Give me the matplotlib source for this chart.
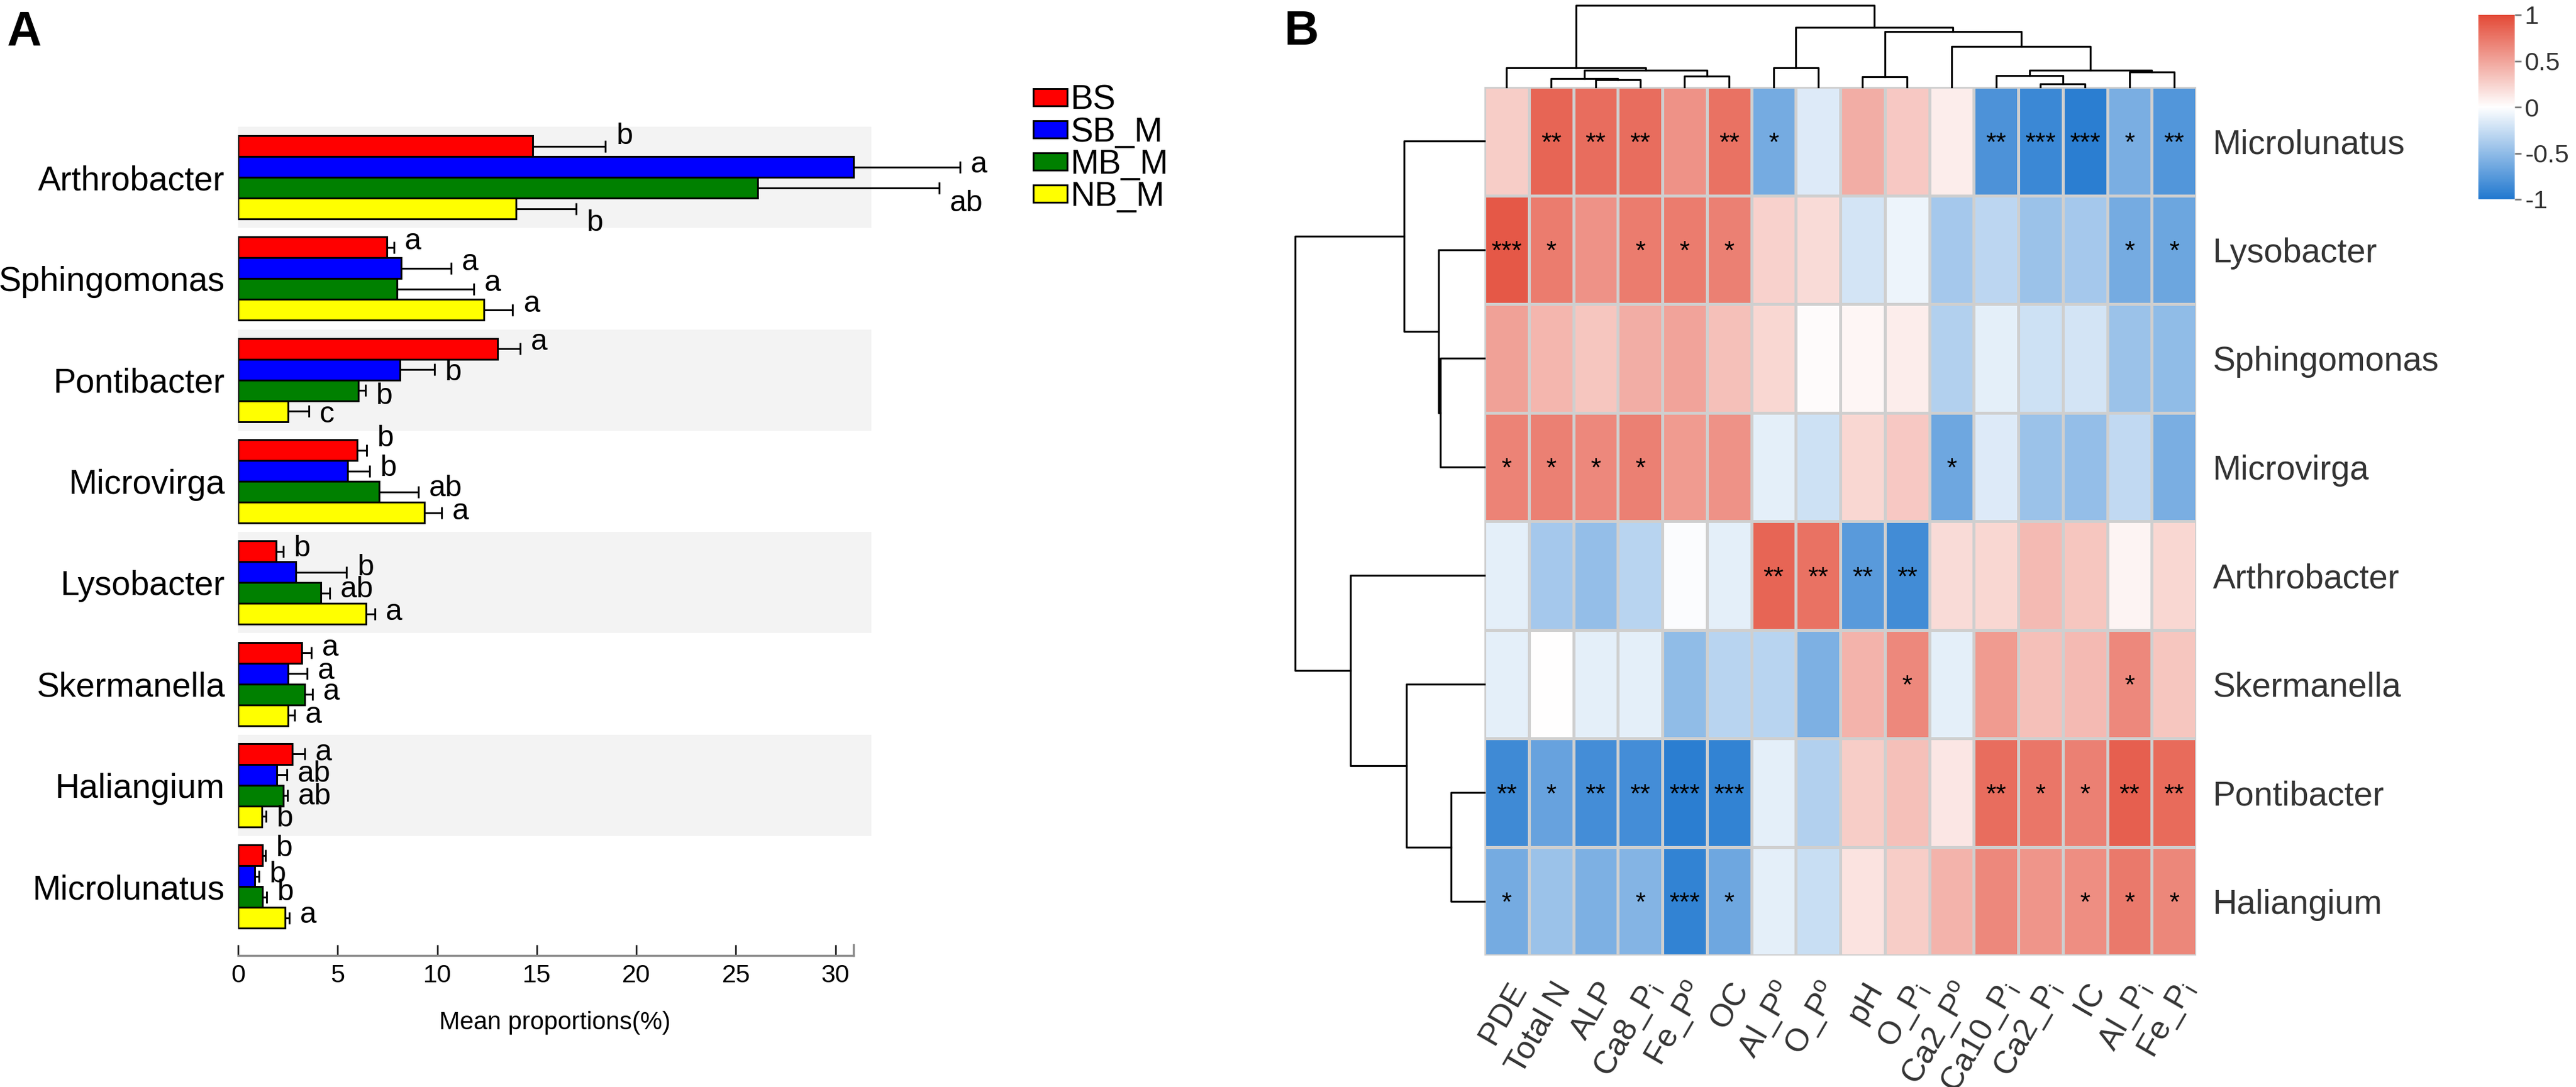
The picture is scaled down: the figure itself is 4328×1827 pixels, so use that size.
import numpy as np
import matplotlib
matplotlib.use('Agg')
import matplotlib.pyplot as plt
from matplotlib.colors import LinearSegmentedColormap
from matplotlib.patches import Patch

plt.rcParams['font.family'] = ['Liberation Sans', 'DejaVu Sans']

# ---------------- panel A data ----------------
genera = ['Arthrobacter', 'Sphingomonas', 'Pontibacter', 'Microvirga',
          'Lysobacter', 'Skermanella', 'Haliangium', 'Microlunatus']
groups = ['BS', 'SB_M', 'MB_M', 'NB_M']

mean_bs = [14.78, 7.48, 13.04, 5.97, 1.91, 3.21, 2.73, 1.22]
se_bs = [3.67, 0.34, 1.13, 0.49, 0.35, 0.46, 0.62, 0.14]
mean_sb = [30.90, 8.18, 8.13, 5.51, 2.89, 2.52, 1.93, 0.84]
se_sb = [5.35, 2.51, 1.72, 1.09, 2.56, 0.94, 0.52, 0.21]
mean_mb = [26.10, 7.97, 6.04, 7.09, 4.15, 3.35, 2.26, 1.22]
se_mb = [9.10, 3.87, 0.35, 1.97, 0.46, 0.38, 0.21, 0.21]
mean_nb = [13.96, 12.33, 2.52, 9.35, 6.44, 2.52, 1.19, 2.35]
se_nb = [3.02, 1.46, 1.04, 0.88, 0.42, 0.31, 0.21, 0.21]

let_bs = ['b', 'a', 'a', 'b', 'b', 'a', 'a', 'b']
let_sb = ['a', 'a', 'b', 'b', 'b', 'a', 'ab', 'b']
let_mb = ['ab', 'a', 'b', 'ab', 'ab', 'a', 'ab', 'b']
let_nb = ['b', 'a', 'c', 'a', 'a', 'a', 'b', 'a']

# ---------------- panel B data ----------------
taxa = ['Microlunatus', 'Lysobacter', 'Sphingomonas', 'Microvirga',
        'Arthrobacter', 'Skermanella', 'Pontibacter', 'Haliangium']
factors = ['PDE', 'Total N', 'ALP', r'Ca8_P$\mathregular{_i}$', r'Fe_P$\mathregular{^o}$', 'OC',
           r'Al_P$\mathregular{^o}$', r'O_P$\mathregular{^o}$', 'pH', r'O_P$\mathregular{_i}$',
           r'Ca2_P$\mathregular{^o}$', r'Ca10_P$\mathregular{_i}$', r'Ca2_P$\mathregular{_i}$', 'IC',
           r'Al_P$\mathregular{_i}$', r'Fe_P$\mathregular{_i}$']

corr = [
    [0.28, 0.85, 0.80, 0.80, 0.60, 0.78, -0.62, -0.15, 0.45, 0.30, 0.10, -0.80, -0.88, -0.95, -0.60, -0.78],
    [0.92, 0.72, 0.60, 0.72, 0.72, 0.70, 0.25, 0.20, -0.20, -0.08, -0.40, -0.30, -0.45, -0.40, -0.62, -0.66],
    [0.52, 0.40, 0.32, 0.45, 0.50, 0.35, 0.22, 0.02, 0.05, 0.10, -0.35, -0.12, -0.22, -0.20, -0.45, -0.50],
    [0.68, 0.70, 0.65, 0.70, 0.55, 0.60, -0.12, -0.22, 0.22, 0.30, -0.65, -0.15, -0.45, -0.48, -0.28, -0.60],
    [-0.12, -0.40, -0.48, -0.32, -0.02, -0.12, 0.85, 0.78, -0.75, -0.85, 0.20, 0.22, 0.38, 0.32, 0.06, 0.22],
    [-0.12, 0.00, -0.12, -0.12, -0.50, -0.32, -0.32, -0.58, 0.42, 0.65, -0.12, 0.55, 0.35, 0.38, 0.65, 0.32],
    [-0.86, -0.68, -0.84, -0.84, -0.95, -0.92, -0.12, -0.35, 0.28, 0.35, 0.14, 0.80, 0.75, 0.70, 0.88, 0.82],
    [-0.62, -0.45, -0.58, -0.55, -0.92, -0.65, -0.12, -0.25, 0.15, 0.28, 0.42, 0.65, 0.58, 0.62, 0.74, 0.66],
]

stars = [
    ['', '**', '**', '**', '', '**', '*', '', '', '', '', '**', '***', '***', '*', '**'],
    ['***', '*', '', '*', '*', '*', '', '', '', '', '', '', '', '', '*', '*'],
    [''] * 16,
    ['*', '*', '*', '*', '', '', '', '', '', '', '*', '', '', '', '', ''],
    ['', '', '', '', '', '', '**', '**', '**', '**', '', '', '', '', '', ''],
    ['', '', '', '', '', '', '', '', '', '*', '', '', '', '', '*', ''],
    ['**', '*', '**', '**', '***', '***', '', '', '', '', '', '**', '*', '*', '**', '**'],
    ['*', '', '', '*', '***', '*', '', '', '', '', '', '', '', '*', '*', '*'],
]

# merges: (child a, child b, height); leaves numbered in display order
col_merges = [(2, 3, 12), (1, 16, 14), (4, 5, 18), (17, 18, 28), (0, 19, 32),
              (6, 7, 32), (8, 9, 17), (12, 13, 5), (11, 23, 19), (14, 15, 25),
              (24, 25, 28), (10, 26, 68), (22, 27, 93), (21, 28, 100), (20, 29, 137)]
row_merges = [(2, 3, 74), (1, 8, 77), (0, 9, 135), (6, 7, 56), (5, 11, 131),
              (4, 12, 225), (10, 13, 318)]

W, H = 4328, 1827
fig = plt.figure(figsize=(W / 100, H / 100), dpi=100)


def px_axes(x0, y0, x1, y1):
    return fig.add_axes([x0 / W, 1 - y1 / H, (x1 - x0) / W, (y1 - y0) / H])


# ================= panel A =================
ax = px_axes(400, 213, 1464, 1606)
means = [mean_bs, mean_sb, mean_mb, mean_nb]
ses = [se_bs, se_sb, se_mb, se_nb]
lets = [let_bs, let_sb, let_mb, let_nb]
colors = ['#FF0000', '#0000FF', '#008000', '#FFFF00']
bh = 0.2055
y = np.arange(len(genera))

for i in range(0, len(genera), 2):
    ax.axhspan(i - 0.5, i + 0.5, xmin=0, xmax=1, color='#F3F3F3', lw=0, zorder=0)

# label nudges in pixels (positive = up)
nudge = [[17, 4, -26, -24], [10, 10, 10, 10], [11, -5, -10, -6], [20, 5, 6, 2],
         [5, 8, 6, 3], [8, 4, 4, 0], [2, 1, -2, -4], [12, 3, 8, 5]]

for j in range(4):
    yy = y + (j - 1.5) * bh
    ax.barh(yy, means[j], height=bh, color=colors[j], edgecolor='black', linewidth=2.2,
            label=groups[j], zorder=2)
    ax.errorbar(means[j], yy, xerr=[np.zeros(len(genera)), ses[j]], fmt='none',
                ecolor='black', elinewidth=2.2, capsize=7.5, capthick=2.2, zorder=3,
                clip_on=False)
    for i in range(len(genera)):
        ax.annotate(lets[j][i], xy=(means[j][i] + ses[j][i], yy[i]),
                    xytext=(13, nudge[i][j] * 0.72), textcoords='offset points',
                    ha='left', va='center', fontsize=36, annotation_clip=False)

ax.set_ylim(7.68, -0.5)
ax.set_xlim(0, 31.8)
ax.set_yticks(y)
ax.set_yticklabels(genera, fontsize=41)
ax.tick_params(axis='y', length=0, pad=16)
ax.set_xticks([0, 5, 10, 15, 20, 25, 30])
ax.tick_params(axis='x', direction='in', length=13, width=2, labelsize=31, pad=10,
               color='#222222')
for s in ['top', 'right', 'left']:
    ax.spines[s].set_visible(False)
ax.spines['bottom'].set_color('#8A8A8A')
ax.spines['bottom'].set_linewidth(2.5)
ax.spines['bottom'].set_bounds(0, 30.9)
ax.plot([30.9, 30.9], [0, 0.013], transform=ax.get_xaxis_transform(), color='#8A8A8A',
        lw=2.5, clip_on=False)
ax.set_xlabel('Mean proportions(%)', fontsize=30, labelpad=28)

handles = [Patch(facecolor=c, edgecolor='black', linewidth=2.2) for c in colors]
fig.legend(handles, groups, loc='upper left', bbox_to_anchor=(1736 / W, 1 - 142 / H),
           frameon=False, fontsize=41, handlelength=1.0, handleheight=0.41,
           handletextpad=0.1, labelspacing=0.0, borderaxespad=0, borderpad=0)

fig.text(12 / W, 1 - 16 / H, 'A', fontsize=58, fontweight='bold', ha='left', va='top')
fig.text(2158 / W, 1 - 16 / H, 'B', fontsize=58, fontweight='bold', ha='left', va='top')

# ================= panel B =================
cmap = LinearSegmentedColormap.from_list('rb', ['#2178CF', '#FFFFFF', '#E34A37'])
hm = px_axes(2494, 146, 3690, 1606)
mesh = hm.pcolormesh(np.array(corr), cmap=cmap, vmin=-1, vmax=1,
                     edgecolors='#CFCFCF', linewidth=2.2)
hm.set_xlim(0, len(factors))
hm.set_ylim(len(taxa), 0)
for s in hm.spines.values():
    s.set_visible(False)
for i in range(len(taxa)):
    for j in range(len(factors)):
        if stars[i][j]:
            hm.text(j + 0.5, i + 0.5, stars[i][j], ha='center', va='center_baseline',
                    fontsize=32, color='black')
hm.yaxis.tick_right()
hm.set_yticks(np.arange(len(taxa)) + 0.5)
hm.set_yticklabels(taxa, fontsize=41, color='#333333')
hm.set_xticks(np.arange(len(factors)) + 0.5)
hm.set_xticklabels(factors, fontsize=39, color='#333333', rotation=60, ha='right',
                   rotation_mode='anchor')
hm.tick_params(axis='y', length=0, pad=20)
hm.tick_params(axis='x', length=0, pad=26)


def draw_tree(axt, merges, n, top):
    pos = {k: k + 0.5 for k in range(n)}
    hgt = {k: 0.0 for k in range(n)}
    for k, (a, b, h) in enumerate(merges):
        p = [pos[a], pos[a], pos[b], pos[b]]
        q = [hgt[a], h, h, hgt[b]]
        if top:
            axt.plot(p, q, color='black', lw=2.3, clip_on=False)
        else:
            axt.plot(q, p, color='black', lw=2.3, clip_on=False)
        pos[n + k] = (pos[a] + pos[b]) / 2
        hgt[n + k] = h


cd = px_axes(2494, 9, 3690, 146)
draw_tree(cd, col_merges, len(factors), True)
cd.set_xlim(0, len(factors))
cd.set_ylim(0, col_merges[-1][2])
cd.axis('off')

rd = px_axes(2176, 146, 2494, 1606)
draw_tree(rd, row_merges, len(taxa), False)
rd.set_ylim(len(taxa), 0)
rd.set_xlim(row_merges[-1][2], 0)
rd.axis('off')

cax = px_axes(4164, 25, 4225, 335)
cb = fig.colorbar(mesh, cax=cax, ticks=[-1, -0.5, 0, 0.5, 1])
cb.ax.set_yticklabels(['-1', '-0.5', '0', '0.5', '1'])
cb.outline.set_visible(False)
cb.ax.tick_params(length=8, width=2, color='#777777', labelsize=31, labelcolor='#333333',
                  pad=4)

fig.savefig('out.png', dpi=100)
